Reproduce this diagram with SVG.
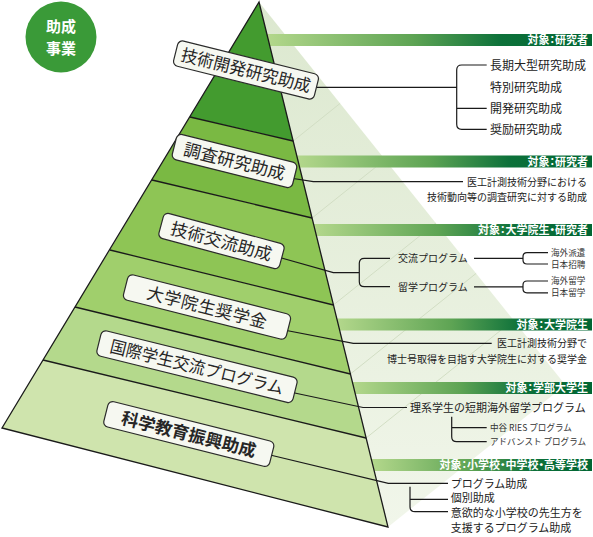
<svg xmlns="http://www.w3.org/2000/svg" width="593" height="537" viewBox="0 0 593 537">
<defs>
<linearGradient id="barGrad" x1="0" y1="0" x2="1" y2="0">
<stop offset="0" stop-color="#b4d88c"/>
<stop offset="0.45" stop-color="#5ea454"/>
<stop offset="0.72" stop-color="#0d713a"/>
<stop offset="1" stop-color="#006633"/>
</linearGradient>
<linearGradient id="backGrad" x1="0" y1="0" x2="0" y2="1">
<stop offset="0" stop-color="#dce8cf"/>
<stop offset="1" stop-color="#f1f6ea"/>
</linearGradient>
<style>
.edge{fill:none;stroke:#1a1a1a;stroke-width:1.3}
.bline{fill:none;stroke:#d2dec4;stroke-width:1}
.bar{fill:url(#barGrad)}
.bartxt{font-family:"Noto Sans CJK JP",sans-serif;font-size:11px;font-weight:bold;fill:#fff;text-anchor:end;font-feature-settings:"palt"}
.box{fill:#f6f8f1;stroke:#2b2b2b;stroke-width:1.2}
.lbl{font-family:"Noto Sans CJK JP",sans-serif;font-size:17px;fill:#262626;text-anchor:middle}
.con{fill:none;stroke:#1a1a1a;stroke-width:1.2}
.t12{font-family:"Noto Sans CJK JP",sans-serif;font-size:12px;fill:#222}
.t11{font-family:"Noto Sans CJK JP",sans-serif;font-size:11px;fill:#222}
.t10{font-family:"Noto Sans CJK JP",sans-serif;font-size:10px;fill:#222}
.t9{font-family:"Noto Sans CJK JP",sans-serif;font-size:8.6px;fill:#333}
.end{text-anchor:end}
</style>
</defs>
<rect width="593" height="537" fill="#fff"/>

<g id="badge">
<circle cx="61" cy="37" r="35.5" fill="#3a9a38"/>
<text x="61" y="32" text-anchor="middle" font-family="'Noto Sans CJK JP',sans-serif" font-size="15" font-weight="bold" fill="#fff">助成</text>
<text x="61" y="54" text-anchor="middle" font-family="'Noto Sans CJK JP',sans-serif" font-size="15" font-weight="bold" fill="#fff">事業</text>
</g>

<g id="pyramid-back">
<polygon points="259,2 388,527 565.4,385.1" fill="url(#backGrad)"/>
<path class="bline" d="M293.2,141L340.1,103.4M312.1,218L385.1,159.6M333.4,305L435.8,223.1M350.4,374L476.1,273.4M366.1,438L513.5,320.1"/>
</g>

<g id="bars">
<rect class="bar" x="266" y="34" width="326" height="12"/>
<rect class="bar" x="296" y="155.5" width="296" height="12"/>
<rect class="bar" x="313" y="224" width="279" height="12"/>
<rect class="bar" x="336" y="318.5" width="256" height="12"/>
<rect class="bar" x="352" y="382" width="240" height="12"/>
<rect class="bar" x="371" y="459" width="221" height="12"/>
<text class="bartxt" x="588" y="44">対象：研究者</text>
<text class="bartxt" x="588" y="165.5">対象：研究者</text>
<text class="bartxt" x="588" y="234">対象：大学院生・研究者</text>
<text class="bartxt" x="588" y="328.5">対象：大学院生</text>
<text class="bartxt" x="588" y="392">対象：学部大学生</text>
<text class="bartxt" x="588" y="469">対象：小学校・中学校・高等学校</text>
</g>

<g id="pyramid-front">
<polygon points="259,2 190,117 293.2,141" fill="#439b2f"/>
<polygon points="190,117 293.2,141 312.1,218 152,180" fill="#7ab943"/>
<polygon points="152,180 312.1,218 333.4,305 110,250" fill="#8ec555"/>
<polygon points="110,250 333.4,305 350.4,374 75,307" fill="#a0cf6c"/>
<polygon points="75,307 350.4,374 366.1,438 43,360" fill="#b4d98c"/>
<polygon points="43,360 366.1,438 388,527 2,428" fill="#cfe4ad"/>
<path class="edge" d="M190,117L293.2,141M152,180L312.1,218M110,250L333.4,305M75,307L350.4,374M43,360L366.1,438"/>
<path class="edge" d="M259,2L2,428L388,527Z"/>
</g>

<g id="connectors">
<path class="con" d="M310,87.3H456.7M486.7,65H461.7Q456.7,65 456.7,70V124.3Q456.7,129.3 461.7,129.3H486.7M456.7,108.3H486.7"/>
<path class="con" d="M290,178L313.3,181.7H463"/>
<path class="con" d="M278,257L333.3,272.7H359.3M390,258.3H364.3Q359.3,258.3 359.3,263.3V281.7Q359.3,286.7 364.3,286.7H390"/>
<path class="con" d="M474,258.3H523M548,252.7H527Q523,252.7 523,256.7V260Q523,264 527,264H548"/>
<path class="con" d="M474,286.9H523M548,281H527Q523,281 523,285V288.8Q523,292.8 527,292.8H548"/>
<path class="con" d="M284,330L353.3,343.3H491.7"/>
<path class="con" d="M290,392L363,407.5H407M451.7,416.7V436.7Q451.7,441.7 456.7,441.7H486.7M451.7,427.7H486.7"/>
<path class="con" d="M266,454L388.3,483.3H448M410,486.7V506.7Q410,511.7 415,511.7H448M410,499.3H448"/>
</g>

<g id="node-1">
<g transform="translate(246,70) rotate(14)">
<rect class="box" x="-72.5" y="-13" width="145" height="26" rx="5"/>
<text class="lbl" x="0" y="6.5" textLength="133" lengthAdjust="spacingAndGlyphs">技術開発研究助成</text>
</g>
<text class="t12" x="490" y="70">長期大型研究助成</text>
<text class="t12" x="490" y="91.5">特別研究助成</text>
<text class="t12" x="490" y="112.5">開発研究助成</text>
<text class="t12" x="490" y="133.5">奨励研究助成</text>
</g>

<g id="node-2">
<g transform="translate(234.5,161) rotate(14)">
<rect class="box" x="-62" y="-13" width="124" height="26" rx="5"/>
<text class="lbl" x="0" y="6.5" textLength="104" lengthAdjust="spacingAndGlyphs">調査研究助成</text>
</g>
<text class="t10 end" x="587" y="185.5">医工計測技術分野における</text>
<text class="t10 end" x="587" y="200.5">技術動向等の調査研究に対する助成</text>
</g>

<g id="node-3">
<g transform="translate(221.5,241) rotate(15)">
<rect class="box" x="-62.5" y="-13" width="125" height="26" rx="5"/>
<text class="lbl" x="0" y="6.5" textLength="104" lengthAdjust="spacingAndGlyphs">技術交流助成</text>
</g>
<text class="t10" x="398" y="262">交流プログラム</text>
<text class="t10" x="398" y="290.5">留学プログラム</text>
<text class="t9" x="551" y="255.6">海外派遣</text>
<text class="t9" x="551" y="267.6">日本招聘</text>
<text class="t9" x="551" y="284">海外留学</text>
<text class="t9" x="551" y="296.2">日本留学</text>
</g>

<g id="node-4">
<g transform="translate(207,307) rotate(14.2)">
<rect class="box" x="-84" y="-13" width="168" height="26" rx="5"/>
<text class="lbl" x="0" y="6.5" textLength="123" lengthAdjust="spacing">大学院生奨学金</text>
</g>
<text class="t10 end" x="587" y="347">医工計測技術分野で</text>
<text class="t10 end" x="587" y="363">博士号取得を目指す大学院生に対する奨学金</text>
</g>

<g id="node-5">
<g transform="translate(197,366.7) rotate(13.9)">
<rect class="box" x="-101" y="-13" width="202" height="26" rx="5"/>
<text class="lbl" x="0" y="6.5" textLength="178" lengthAdjust="spacingAndGlyphs">国際学生交流プログラム</text>
</g>
<text class="t11" x="410" y="411.5">理系学生の短期海外留学プログラム</text>
<text class="t9" x="490" y="431" fill="#444">中谷 RIES プログラム</text>
<text class="t9" x="490" y="445" fill="#444" textLength="96" lengthAdjust="spacingAndGlyphs">アドバンスト プログラム</text>
</g>

<g id="node-6">
<g transform="translate(188.8,434) rotate(14.1)">
<rect class="box" x="-85.5" y="-13" width="171" height="26" rx="5"/>
<text class="lbl" x="0" y="6.5" font-weight="bold" textLength="138" lengthAdjust="spacingAndGlyphs">科学教育振興助成</text>
</g>
<text class="t11" x="450.7" y="487.5" font-size="10.8">プログラム助成</text>
<text class="t11" x="450.7" y="502.3" font-size="10.8">個別助成</text>
<text class="t11" x="450.7" y="517.3" font-size="10.8">意欲的な小学校の先生方を</text>
<text class="t11" x="450.7" y="532" font-size="10.8">支援するプログラム助成</text>
</g>
</svg>
